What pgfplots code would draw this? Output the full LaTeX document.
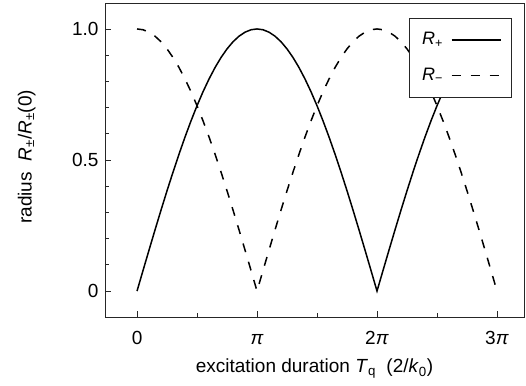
\documentclass[border=0pt]{standalone}
\usepackage{fontspec}
\setmainfont{Liberation Sans}
\usepackage{pgfplots}
\pgfplotsset{compat=1.18}
\begin{document}
\fontsize{19}{23}\selectfont
\begin{tikzpicture}[font=\fontsize{19}{23}\selectfont]
\begin{axis}[
  scale only axis,
  width=419pt, height=314pt,
  xmin=-0.267, xmax=3.225,
  ymin=-0.099, ymax=1.099,
  axis line style={black!85, line width=0.8pt},
  tick pos=left, tick align=inside,
  major tick length=6pt, minor tick length=4pt,
  tick style={black!85, line width=0.7pt},
  xtick={0,1,2,3}, xticklabels={0,\textit{π},2\textit{π},3\textit{π}},
  minor x tick num=1,
  ytick={0,0.5,1}, yticklabels={0,0.5,1.0},
  minor y tick num=4,
  xticklabel style={anchor=base, yshift=-28pt},
  xlabel={excitation duration \textit{T}\textsubscript{q}\ \ (2/\textit{k}\textsubscript{0})},
  ylabel={radius\ \ \textit{R}\textsubscript{±}/\textit{R}\textsubscript{±}(0)},
  xlabel style={at={(axis description cs:0.5,-0.178)}, anchor=base},
  ylabel style={at={(axis description cs:-0.187,0.51)}, anchor=center, rotate=0},
  legend style={at={(rel axis cs:0.971,0.952)}, anchor=north east,
    draw=black!85, line width=0.8pt, fill=white, font=\fontsize{18}{21}\selectfont,
    row sep=14pt, inner xsep=10pt, inner ysep=11pt, column sep=5pt,
    nodes={inner sep=3pt}},
  legend cell align=left,
  legend plot pos=right,
  legend image code/.code={\draw[#1] (0pt,0pt) -- (49pt,0pt);},
]
\addplot[black, line width=1.5pt] coordinates {
(0,0) (0.05,.0785) (0.1,.1564) (0.15,.2334) (0.2,.3090) (0.25,.3827) (0.3,.4540) (0.35,.5225) (0.4,.5878) (0.45,.6494) (0.5,.7071) (0.55,.7604) (0.6,.8090) (0.65,.8526) (0.7,.8910) (0.75,.9239) (0.8,.9511) (0.85,.9724) (0.9,.9877) (0.95,.9969) (1,1)
(1.05,.9969) (1.1,.9877) (1.15,.9724) (1.2,.9511) (1.25,.9239) (1.3,.8910) (1.35,.8526) (1.4,.8090) (1.45,.7604) (1.5,.7071) (1.55,.6494) (1.6,.5878) (1.65,.5225) (1.7,.4540) (1.75,.3827) (1.8,.3090) (1.85,.2334) (1.9,.1564) (1.95,.0785) (2,0)
(2.05,.0785) (2.1,.1564) (2.15,.2334) (2.2,.3090) (2.25,.3827) (2.3,.4540) (2.35,.5225) (2.4,.5878) (2.45,.6494) (2.5,.7071) (2.55,.7604) (2.6,.8090) (2.65,.8526) (2.7,.8910) (2.75,.9239) (2.8,.9511) (2.85,.9724) (2.9,.9877) (2.95,.9969) (3,1)
};
\addlegendentry{\textit{R}\textsubscript{+}}
\addplot[black, line width=1.5pt, dash pattern=on 9pt off 10pt] coordinates {
(0,1) (0.05,.9969) (0.1,.9877) (0.15,.9724) (0.2,.9511) (0.25,.9239) (0.3,.8910) (0.35,.8526) (0.4,.8090) (0.45,.7604) (0.5,.7071) (0.55,.6494) (0.6,.5878) (0.65,.5225) (0.7,.4540) (0.75,.3827) (0.8,.3090) (0.85,.2334) (0.9,.1564) (0.95,.0785) (1,0)
(1.05,.0785) (1.1,.1564) (1.15,.2334) (1.2,.3090) (1.25,.3827) (1.3,.4540) (1.35,.5225) (1.4,.5878) (1.45,.6494) (1.5,.7071) (1.55,.7604) (1.6,.8090) (1.65,.8526) (1.7,.8910) (1.75,.9239) (1.8,.9511) (1.85,.9724) (1.9,.9877) (1.95,.9969) (2,1)
(2.05,.9969) (2.1,.9877) (2.15,.9724) (2.2,.9511) (2.25,.9239) (2.3,.8910) (2.35,.8526) (2.4,.8090) (2.45,.7604) (2.5,.7071) (2.55,.6494) (2.6,.5878) (2.65,.5225) (2.7,.4540) (2.75,.3827) (2.8,.3090) (2.85,.2334) (2.9,.1564) (2.95,.0785) (3,0)
};
\addlegendentry{\textit{R}\textsubscript{−}}
\end{axis}
\path (current axis.south west) ++(-105pt,-69pt) rectangle ([xshift=2pt,yshift=3pt]current axis.north east);
\end{tikzpicture}
\end{document}
